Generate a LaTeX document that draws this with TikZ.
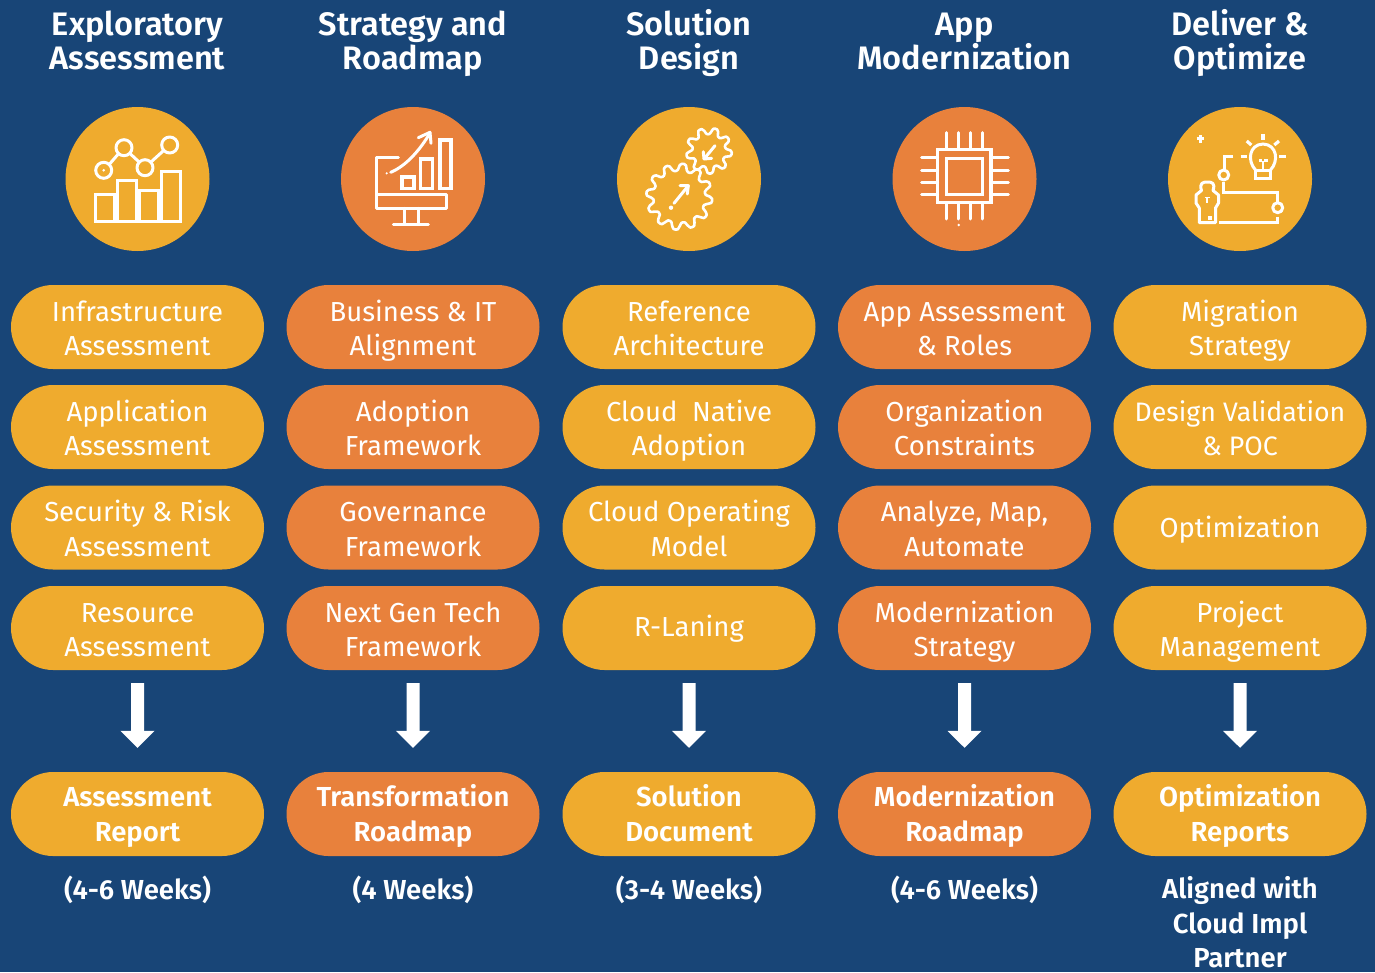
\documentclass[tikz,border=0pt]{standalone}
\usepackage{fontspec}
\setmainfont{Fira Sans}[BoldFont={Fira Sans SemiBold}]
\usetikzlibrary{arrows.meta,shapes.misc}
\definecolor{navy}{HTML}{184577}
\definecolor{gold}{HTML}{EFAB2E}
\definecolor{tang}{HTML}{E8813C}
\def\hh{30}\def\dd{7}
\newcommand{\fl}{\leavevmode\vrule height \hh pt depth 0pt width 0pt\relax}
\tikzset{
  vpos/.code 2 args={\def\hh{#1}\def\dd{#2}},
  fixedlines/.style={execute at begin node={\leavevmode\vrule height \hh pt depth 0pt width 0pt\relax},
    execute at end node={\vrule height 0pt depth \dd pt width 0pt\relax}},
  pill/.style={rounded rectangle,minimum width=253pt,minimum height=84pt,inner sep=0pt,text=white,align=center,fixedlines,font=\fontsize{27.5}{34.6}\selectfont},
  yp/.style={pill,fill=gold},
  op/.style={pill,fill=tang},
  one/.style={vpos={24.3}{8.3}},
  onelow/.style={vpos={27.3}{8.3}},
  tight/.style={font=\fontsize{26.7}{34.6}\selectfont},
  rep/.style={vpos={28}{9},font=\fontsize{27.5}{35}\selectfont\bfseries},
  head/.style={text=white,align=center,inner sep=0pt,fixedlines,vpos={28}{9},font=\fontsize{32.5}{34}\selectfont\bfseries},
  note/.style={text=white,align=center,inner sep=0pt,fixedlines,vpos={28.3}{0},font=\fontsize{27.5}{35}\selectfont\bfseries},
  notelong/.style={note,font=\fontsize{27.5}{34.5}\selectfont\bfseries},
  disc/.style={circle,minimum size=144pt,inner sep=0pt},
  bigarrow/.style={draw=white,line width=13pt,-{Triangle[width=33pt,length=17pt,fill=white]},shorten <=13pt,shorten >=24pt},
  ic/.style={draw=white,line width=3pt,line cap=round,line join=round},
  icn/.style={ic,line cap=butt,line join=miter},
}
\newcommand{\gearpath}[6]{% cx cy rmid ramp teeth phase
  \draw[ic,line width=2.6pt] plot[smooth cycle,tension=0.45,samples=#5*8+1,domain=0:360-360/(#5*8)]
    ({#1+(#3+#4*tanh(1.8*sin(#5*\x+#6)))*cos(\x)},{#2+(#3+#4*tanh(1.8*sin(#5*\x+#6)))*sin(\x)});}
\begin{document}
\begin{tikzpicture}[x=1pt,y=-1pt]
\useasboundingbox (0,0) rectangle (1375,972);
\fill[navy] (0,0) rectangle (1375,972);

% headings
\node[head] (h1) at (137.5,42.5) {\fl Exploratory\\Assessment};
\node[head] (h2) at (413,42.5) {\fl Strategy and\\Roadmap};
\node[head] (h3) at (689,42.5) {\fl Solution\\Design};
\node[head] (h4) at (964.5,42.5) {\fl App\\Modernization};
\node[head] (h5) at (1240,42.5) {\fl Deliver \&\\Optimize};

% discs
\node[disc,fill=gold] (d1) at (137.5,179) {};
\node[disc,fill=tang] (d2) at (413,179) {};
\node[disc,fill=gold] (d3) at (689,179) {};
\node[disc,fill=tang] (d4) at (964.5,179) {};
\node[disc,fill=gold] (d5) at (1240,179) {};

% column 1
\node[yp] (a1) at (137.5,327) {\fl Infrastructure\\Assessment};
\node[yp] (a2) at (137.5,427) {\fl Application\\Assessment};
\node[yp] (a3) at (137.5,527.5) {\fl Security \& Risk\\Assessment};
\node[yp] (a4) at (137.5,628) {\fl Resource\\Assessment};
\node[yp,rep] (a5) at (137.5,814) {\fl Assessment\\Report};
\node[note] (n1) at (137.5,887.5) {(4-6 Weeks)};
% column 2
\node[op] (b1) at (413,327) {\fl Business \& IT\\Alignment};
\node[op] (b2) at (413,427) {\fl Adoption\\Framework};
\node[op] (b3) at (413,527.5) {\fl Governance\\Framework};
\node[op] (b4) at (413,628) {\fl Next Gen Tech\\Framework};
\node[op,rep] (b5) at (413,814) {\fl Transformation\\Roadmap};
\node[note] (n2) at (413,887.5) {(4 Weeks)};
% column 3
\node[yp] (c1) at (689,327) {\fl Reference\\Architecture};
\node[yp] (c2) at (689,427) {\fl Cloud\ \ Native\\Adoption};
\node[yp] (c3) at (689,527.5) {\fl Cloud Operating\\Model};
\node[yp,one] (c4) at (689,628) {R-Laning};
\node[yp,rep] (c5) at (689,814) {\fl Solution\\Document};
\node[note] (n3) at (689,887.5) {(3-4 Weeks)};
% column 4
\node[op] (e1) at (964.5,327) {\fl App Assessment\\\& Roles};
\node[op] (e2) at (964.5,427) {\fl Organization\\Constraints};
\node[op] (e3) at (964.5,527.5) {\fl Analyze, Map,\\Automate};
\node[op] (e4) at (964.5,628) {\fl Modernization\\Strategy};
\node[op,rep] (e5) at (964.5,814) {\fl Modernization\\Roadmap};
\node[note] (n4) at (964.5,887.5) {(4-6 Weeks)};
% column 5
\node[yp] (f1) at (1240,327) {\fl Migration\\Strategy};
\node[yp,tight] (f2) at (1240,427) {\fl Design Validation\\\& POC};
\node[yp,onelow] (f3) at (1240,527.5) {Optimization};
\node[yp] (f4) at (1240,628) {\fl Project\\Management};
\node[yp,rep] (f5) at (1240,814) {\fl Optimization\\Reports};
\node[notelong] (n5) at (1240,922.5) {Aligned with\\Cloud Impl\\Partner};

% block arrows
\draw[bigarrow] (a4) -- (a5);
\draw[bigarrow] (b4) -- (b5);
\draw[bigarrow] (c4) -- (c5);
\draw[bigarrow] (e4) -- (e5);
\draw[bigarrow] (f4) -- (f5);

% icon 1
\draw[icn] (95.7,194.3) rectangle (114,221);
\draw[icn] (117.3,180.7) rectangle (136.7,221);
\draw[icn] (139,190.7) rectangle (158,221);
\draw[icn] (161,171.3) rectangle (180,221);
\draw[ic] (103.7,170.3) circle (8);
\draw[ic] (124,147.7) circle (8);
\draw[ic] (145,167.7) circle (8);
\draw[ic] (169.7,145) circle (8);
\fill[white] (103.7,170.3) circle (1.4);
\draw[ic] (109.2,164.5) -- (118.5,153.7);
\draw[ic] (129.7,153.3) -- (139.3,162.2);
\draw[ic] (151,162) -- (163.7,150.5);

% icon 2
\draw[ic] (398.3,157.3) -- (376,157.3) -- (376,194.3);
\draw[ic] (376,194.3) rectangle (446.7,208.3);
\draw[ic] (404,208.3) -- (404,224.3);
\draw[ic] (418.3,208.3) -- (418.3,224.3);
\draw[ic] (393.3,224.6) -- (428.3,224.6);
\draw[icn,line width=3.4pt] (402,177) rectangle (414,188.3);
\draw[icn,line width=3.4pt] (420.7,159) rectangle (432.3,188.3);
\draw[icn,line width=3.4pt] (440,140) rectangle (451,188.3);
\draw[ic] (390.7,172.3) .. controls (406,166) and (420,150) .. (430,133);
\draw[ic] (418.3,137.7) -- (430,132.3) -- (431,143.3);
\fill[white] (386.7,173.3) circle (1.2);

% icon 3
\gearpath{679.3}{196.7}{29.5}{3.8}{12}{10}
\gearpath{709}{150.7}{19.7}{3.4}{9}{25}
\draw[ic] (674,203.3) -- (688.3,185.7);
\draw[ic] (680,185.7) -- (688.3,185.7) -- (687.3,194);
\fill[white] (671,207.7) circle (2.2);
\draw[ic] (715,145.7) -- (704,159);
\draw[ic] (703.3,151.7) -- (704,159) -- (711.7,158.3);

% icon 4
\draw[icn,line width=3.4pt] (937.7,149.3) rectangle (991,202.7);
\draw[icn,line width=3.4pt] (946.7,158.3) rectangle (982.3,194.3);
\foreach \p in {946.7,958.7,970.7,982.7}{
  \draw[ic] (\p,132.7) -- (\p,149.3);
  \draw[ic] (\p,202.7) -- (\p,219);
}
\foreach \p in {157.7,170,182,194}{
  \draw[ic] (921.7,\p) -- (937.7,\p);
  \draw[ic] (991,\p) -- (1008.3,\p);
}
\fill[white] (958.7,225) circle (1.3);

% icon 5
\draw[white,line width=3pt] (1196.5,138.7) -- (1204,138.7);
\draw[white,line width=3pt] (1200.2,135) -- (1200.2,142.5);
\draw[icn] (1255.5,170) .. controls (1247,161) and (1249,144.5) .. (1263,144) .. controls (1277,144.5) and (1279,161) .. (1270.5,170);
\draw[icn] (1255.5,170) -- (1255.5,178.3) -- (1270.5,178.3) -- (1270.5,170) -- cycle;
\draw[icn,line width=2pt] (1263,170) -- (1263,161);
\fill[white] (1258.5,158.5) rectangle (1262,162);
\fill[white] (1264,158.5) rectangle (1267.5,162);
\draw[white,line width=3.4pt] (1263,134.3) -- (1263,140);
\draw[white,line width=3.2pt] (1246.7,141) -- (1251.3,145);
\draw[white,line width=3.2pt] (1279,141) -- (1274.3,145);
\draw[white,line width=3.2pt] (1240.7,156.7) -- (1246.7,156.7);
\draw[white,line width=3.2pt] (1279.3,156.7) -- (1285.7,156.7);
\draw[icn] (1233.3,156.3) -- (1224,156.3) -- (1224,169);
\draw[ic] (1223.7,175) circle (5);
\draw[icn] (1223.7,182.3) -- (1223.7,192.3) -- (1277.7,192.3) -- (1277.7,201.7);
\draw[ic] (1277.7,207.7) circle (5);
\draw[icn] (1277.7,216.7) -- (1277.7,222.3) -- (1219.3,222.3);
\draw[ic] (1199.3,222.7) -- (1199.3,208) -- (1196,203) -- (1196,195) -- (1201.5,190.5)
  .. controls (1199,183) and (1203,182) .. (1207.3,182) .. controls (1212,182) and (1215.5,183) .. (1213,190.5)
  -- (1218.5,195) -- (1218.5,203) -- (1215.5,208) -- (1215.5,222.7) -- cycle;
\draw[white,line width=1.8pt] (1204.5,197.5) -- (1210,197.5);
\draw[white,line width=1.8pt] (1207.3,197.5) -- (1207.3,203);
\fill[white] (1208,215.7) rectangle (1212,219.7);
\end{tikzpicture}
\end{document}
